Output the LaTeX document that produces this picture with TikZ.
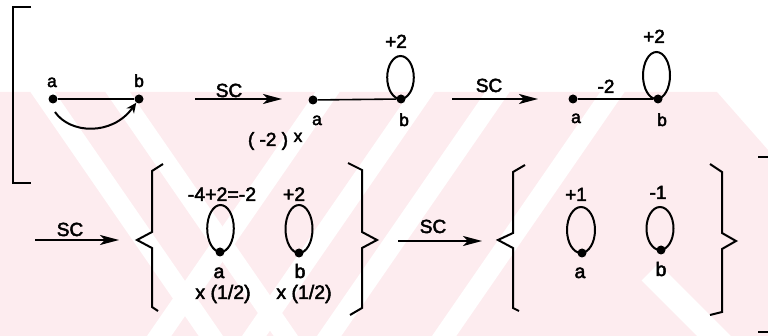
\documentclass[tikz,border=0pt]{standalone}
\usepackage{fontspec}
\setmainfont{Liberation Sans}
\newfontfamily\labfont[FakeBold=2.5]{Liberation Sans}
\usetikzlibrary{arrows.meta,calc}
\definecolor{wm}{RGB}{253,236,239}
\tikzset{
  dot/.style={circle,fill=black,inner sep=0pt,minimum size=9pt},
  edgeline/.style={line width=1.6pt},
  scarrow/.style={line width=2pt,-{Stealth[length=19pt,width=10pt,inset=5pt]}},
  lbl/.style={anchor=base,inner sep=0pt,font=\labfont\fontsize{17.5}{17.5}\selectfont},
  lblm/.style={anchor=base,inner sep=0pt,font=\labfont\fontsize{19}{19}\selectfont},
  lblb/.style={anchor=base,inner sep=0pt,font=\labfont\fontsize{19.5}{19.5}\selectfont},
  brack/.style={line width=2pt,line join=miter},
  loopline/.style={line width=2pt},
  wmstripe/.style={white,line width=20pt},
}
\begin{document}
\begin{tikzpicture}[x=1pt,y=-1pt]
\useasboundingbox (0,0) rectangle (768,336);
% watermark
\begin{scope}
  \clip (0,92) rectangle (768,336);
  \fill[wm] (0,92) -- (717,92) -- (768,150) -- (768,336) -- (0,336) -- cycle;
  \foreach \x in {40,115} {\draw[wmstripe] (\x-25,52) -- (\x+215,400);}
  \foreach \x in {330,425,500,615} {\draw[wmstripe] (\x+25,52) -- (\x-215,400);}
  \draw[white,line width=24pt] (650,272) -- (730,352);
\end{scope}
% left bracket and right bracket ends
\draw[brack] (31,7) -- (13,7) -- (13,183) -- (31,183);
\draw[brack] (758,157) -- (768,157);
\draw[brack] (758,332) -- (768,332);
% row 1, first graph
\node[dot] (a1) at (53,99) {};
\node[dot] (b1) at (139,99) {};
\draw[edgeline] (a1) -- (b1);
\node[lbl] (la1) at (52,87) {a};
\node[lbl] (lb1) at (139,87) {b};
\coordinate (c1) at (55,112);
\draw[line width=2pt,-{Stealth[length=10pt,width=9pt,inset=3pt]}] (c1) .. controls (70,134) and (112,136) .. (b1);
% SC 1
\coordinate (s1a) at (195,99);
\coordinate (s1b) at (282,99);
\draw[scarrow] (s1a) -- (s1b);
\node[lblm] (sc1) at (229,97) {SC};
% second graph
\node[dot] (a2) at (313,100) {};
\node[dot] (b2) at (401,99) {};
\draw[edgeline] (a2) -- (b2);
\draw[loopline] ($(b2.center)+(-0.5,-21.5)$) ellipse[x radius=13.3, y radius=21.5];
\node[lblm] (p2) at (396,48) {+2};
\node[lbl] (la2) at (317,125) {a};
\node[lbl] (lb2) at (404,126) {b};
\node[lblm] (m2) at (268,146) {( -2 )};
\node[lbl] (xx) at (298,142) {x};
% SC 2
\coordinate (s2a) at (452,99);
\coordinate (s2b) at (538,99);
\draw[scarrow] (s2a) -- (s2b);
\node[lblm] (sc2) at (489,92) {SC};
% third graph
\node[dot] (a3) at (573,99) {};
\node[dot] (b3) at (658,99) {};
\draw[edgeline] (a3) -- (b3);
\draw[loopline] ($(b3.center)+(-1.5,-23.5)$) ellipse[x radius=13.5, y radius=23.5];
\node[lblm] (e3) at (606,93) {-2};
\node[lblm] (p3) at (654,43) {+2};
\node[lbl] (la3) at (576,123) {a};
\node[lbl] (lb3) at (662,126) {b};
% row 2
\coordinate (s3a) at (35,240);
\coordinate (s3b) at (119,240);
\draw[scarrow] (s3a) -- (s3b);
\node[lblm] (sc3) at (70,236) {SC};
\draw[brack] (163,164) -- (152,171) -- (152,232) -- (137,240) -- (152,248) -- (152,307) -- (158,311);
\draw[brack] (348,163) -- (362,170) -- (362,232) -- (377,240) -- (362,248) -- (362,308) -- (350,315);
\node[dot] (a4) at (220,252) {};
\draw[loopline] ($(a4.center)+(0.5,-23.5)$) ellipse[x radius=13.3, y radius=23.5];
\node[lblb] (t4) at (222,201) {-4+2=-2};
\node[lblb] (la4) at (219,278) {a};
\node[lblb] (h4) at (223,299) {x (1/2)};
\node[dot] (b4) at (299,253) {};
\draw[loopline] ($(b4.center)+(0,-24)$) ellipse[x radius=13.5, y radius=24];
\node[lblb] (p4) at (294,201) {+2};
\node[lblb] (lb4) at (300,278) {b};
\node[lblb] (hb4) at (304,299) {x (1/2)};
% SC 4
\coordinate (s4a) at (398,241);
\coordinate (s4b) at (482,241);
\draw[scarrow] (s4a) -- (s4b);
\node[lblm] (sc4) at (433,233) {SC};
\draw[brack] (525,165) -- (513,172) -- (513,233) -- (498,240) -- (513,248) -- (513,308) -- (519,311);
\draw[brack] (710,164) -- (722,172) -- (722,233) -- (736,241) -- (722,249) -- (722,312) -- (710,315);
\node[dot] (a5) at (582,253) {};
\draw[loopline] ($(a5.center)+(-1,-23)$) ellipse[x radius=14, y radius=23];
\node[lblm] (p5) at (576,201) {+1};
\node[lblb] (la5) at (580,278) {a};
\node[dot] (b5) at (661,250) {};
\draw[loopline] ($(b5.center)+(-1,-21.5)$) ellipse[x radius=13.5, y radius=21.5];
\node[lblm] (m5) at (658,199) {-1};
\node[lblb] (lb5) at (661,276) {b};
\end{tikzpicture}
\end{document}
